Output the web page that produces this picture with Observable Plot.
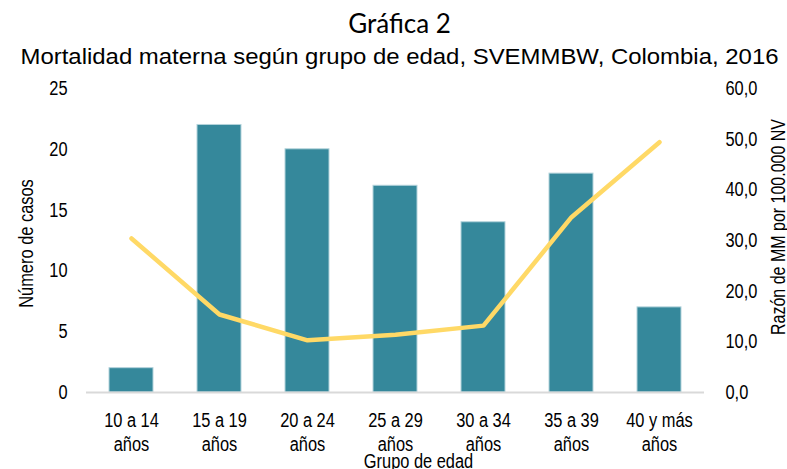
<!DOCTYPE html>
<html>
<head>
<meta charset="utf-8">
<script src="https://cdn.jsdelivr.net/npm/d3@7"></script>
<script src="https://cdn.jsdelivr.net/npm/@observablehq/plot@0.6"></script>
<style>
  html, body { margin: 0; padding: 0; background: #fff; }
  #chart { width: 787px; height: 469px; }
</style>
</head>
<body>
<div id="chart"></div>
<script>
const categories = ["10 a 14 años", "15 a 19 años", "20 a 24 años", "25 a 29 años", "30 a 34 años", "35 a 39 años", "40 y más años"];
const cases = [2, 22, 20, 17, 14, 18, 7];
const rates = [30.4, 15.4, 10.3, 11.4, 13.2, 34.6, 49.4];
const leftTicks = [0, 5, 10, 15, 20, 25];
const rightTicks = [0, 10, 20, 30, 40, 50, 60];
const title = "Gráfica 2";
const subtitle = "Mortalidad materna según grupo de edad, SVEMMBW, Colombia, 2016";
const xLabel = "Grupo de edad";
const yLabel = "Número de casos";
const y2Label = "Razón de MM por 100.000 NV";

const data = categories.map((c, i) => ({cat: c, cases: cases[i], rate: rates[i]}));
const leftMax = 25, rightMax = 60;
const toLeft = v => v * leftMax / rightMax;

const arial = "'Liberation Sans', Arial, sans-serif";
const centered = {textAnchor: "middle", lineAnchor: "middle", fill: "#000"};

const chart = Plot.plot({
  width: 787,
  height: 469,
  marginTop: 88,
  marginBottom: 77,
  marginLeft: 86,
  marginRight: 83,
  style: {fontFamily: arial, fontSize: "20px", color: "#000", background: "#fff", overflow: "visible"},
  x: {domain: categories, paddingInner: 0.5, paddingOuter: 0.25},
  y: {domain: [0, leftMax]},
  marks: [
    Plot.barY(data, {x: "cat", y: "cases", fill: "#35889b", stroke: "#b3d3db", strokeWidth: 1}),
    Plot.ruleY([0], {stroke: "#d9d9d9", strokeWidth: 2}),
    Plot.lineY(data, {x: "cat", y: d => toLeft(d.rate), stroke: "#ffd966", strokeWidth: 4.5, strokeLinecap: "round", strokeLinejoin: "round"}),
    Plot.axisY({ticks: leftTicks, tickSize: 0, tickPadding: 19, label: null, fontSize: 20}),
    Plot.axisY({anchor: "right", ticks: rightTicks.map(toLeft), tickFormat: d => (d * rightMax / leftMax).toFixed(1).replace(".", ","), tickSize: 0, tickPadding: 21, label: null, fontSize: 20}),
    Plot.axisX({tickSize: 0, tickPadding: 17, label: null, fontSize: 20, lineHeight: 1.2, tickFormat: d => d.replace(/ años$/, "\naños")}),
    Plot.text([title], {...centered, frameAnchor: "top", dx: 4, dy: -63.5, fontFamily: "Lato, 'Open Sans', sans-serif", fontSize: 26}),
    Plot.text([subtitle], {...centered, frameAnchor: "top", dx: 4, dy: -32, fontFamily: arial, fontSize: 22}),
    Plot.text([xLabel], {...centered, frameAnchor: "bottom", dx: 23, dy: 69, fontSize: 20}),
    Plot.text([yLabel], {...centered, frameAnchor: "left", rotate: -90, dx: -60, dy: 3, fontSize: 20}),
    Plot.text([y2Label], {...centered, frameAnchor: "right", rotate: -90, dx: 74, dy: -13.5, fontSize: 19.5})
  ]
});
document.getElementById("chart").appendChild(chart);

// Emulate the condensed (Arial Narrow-like) face of the reference by compressing glyphs horizontally.
const condense = 0.82;
d3.select(chart).selectAll("text").each(function() {
  const t = this.textContent;
  if (t === title) return;
  const spans = this.querySelectorAll("tspan");
  const targets = spans.length ? Array.from(spans) : [this];
  for (const el of targets) {
    const len = el.getComputedTextLength();
    if (!len) continue;
    el.setAttribute("textLength", t === subtitle ? 758 : (len * condense).toFixed(2));
    el.setAttribute("lengthAdjust", "spacingAndGlyphs");
  }
});
</script>
</body>
</html>
